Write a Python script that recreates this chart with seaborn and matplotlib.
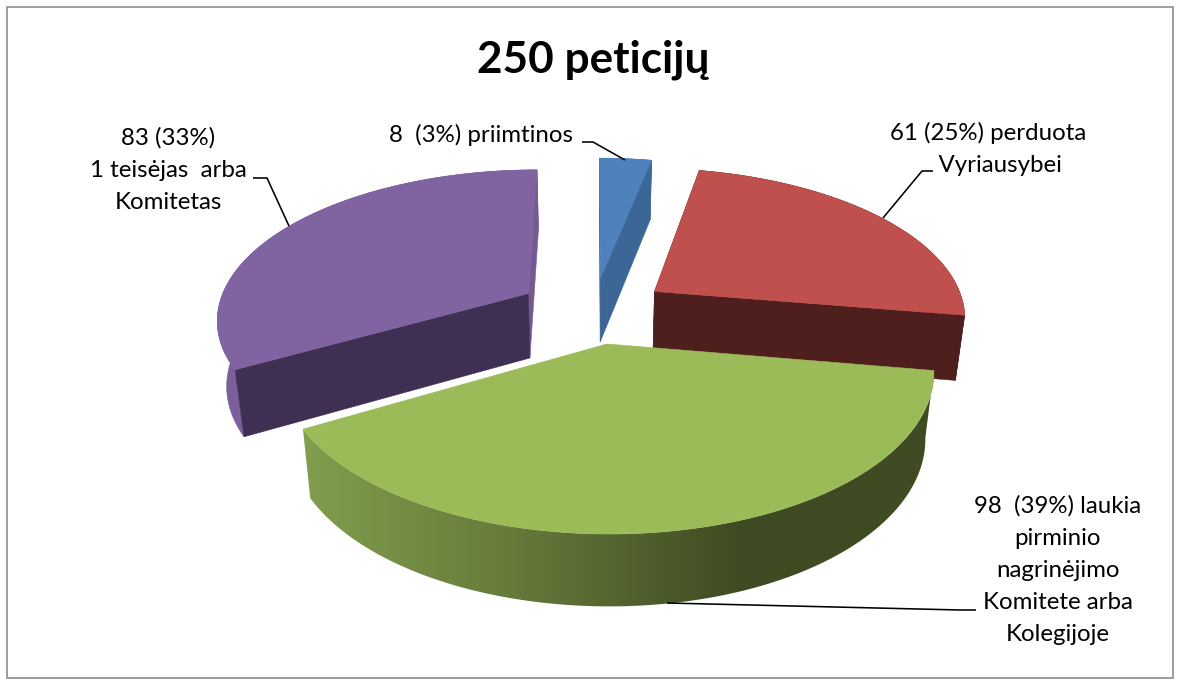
import numpy as np
import matplotlib.pyplot as plt
import seaborn as sns
from matplotlib.patches import Polygon, Rectangle

# -----------------------------
# Data
# -----------------------------
title = "250 peticijų"
counts = [8, 61, 98, 83]
labels = [
    "8  (3%) priimtinos",
    "61 (25%) perduota\n    Vyriausybei",
    "98  (39%) laukia\npirminio\nnagrinėjimo\nKomitete arba\nKolegijoje",
    "83 (33%)\n1 teisėjas  arba\nKomitetas",
]
top_colors = ["#4F81BD", "#C0504D", "#9BBB59", "#8064A2"]
start_colors = ["#3C6696", "#4F1F1E", None, "#3F2F52"]
end_colors = ["#3C6696", "#4F1F1E", None, "#755A92"]
side_colors = ["#3C6696", "#4F1F1E", None, "#7B5E9A"]

# -----------------------------
# Projection of the 3D pie
# -----------------------------
CX, CY = 593, 310
RX, RY = 311, 148
PERSP = 0.158
EXPLODE_U, EXPLODE_V = 0.245, 0.225
DEPTH = 65
SHRINK = 0.975


def project(u, v):
    w = 1 - PERSP * v
    return CX + RX * u / w, CY + RY * v / w, w


def lower(x, y, w):
    return CX + (x - CX) * SHRINK, y + DEPTH / np.sqrt(w)


def wedge_outline(a0, a1, n=200):
    mid = (a0 + a1) / 2
    ou, ov = EXPLODE_U * np.sin(mid), -EXPLODE_V * np.cos(mid)
    ang = np.linspace(a0, a1, n)
    return project(ou + np.sin(ang), ov - np.cos(ang)), project(ou, ov)


sns.set_theme(style="white")
plt.rcParams["font.family"] = ["Lato", "DejaVu Sans"]

fig = plt.figure(figsize=(11.79, 6.79), dpi=100)
ax = fig.add_axes([0, 0, 1, 1])

ax.add_patch(Rectangle((6.5, 6.5), 1166.5, 671.5, fill=False, edgecolor="#8C8C8C", linewidth=1.2))

# green side runs from lit olive on the left to dark olive on the right
green_ramp = np.array(sns.blend_palette(["#81A04F", "#66793A", "#3F4B22", "#3F4B22"], 256))

edges = np.radians(np.cumsum([0] + counts) / sum(counts) * 360)
fill = dict(linewidth=0.4)

for i in range(len(counts)):
    (arc_x, arc_y, arc_w), (ox, oy, ow) = wedge_outline(edges[i], edges[i + 1])
    low_x, low_y = lower(arc_x, arc_y, arc_w)
    olx, oly = lower(ox, oy, ow)

    # outer rim
    rim_x = np.r_[arc_x, low_x[::-1]]
    rim_y = np.r_[arc_y, low_y[::-1]]
    if side_colors[i] is None:
        rim = Polygon(np.c_[rim_x, rim_y], closed=True, transform=ax.transData)
        img = ax.imshow(green_ramp[None, :, :], extent=(295, 960, 700, 300), aspect="auto",
                        interpolation="bilinear", zorder=i + 1)
        img.set_clip_path(rim)
    else:
        ax.fill(rim_x, rim_y, color=side_colors[i], zorder=i + 1, **fill)

    # cut faces
    if end_colors[i] is not None:
        ax.fill([ox, arc_x[-1], low_x[-1], olx], [oy, arc_y[-1], low_y[-1], oly],
                color=end_colors[i], zorder=i + 1.1, **fill)
    if start_colors[i] is not None:
        ax.fill([ox, arc_x[0], low_x[0], olx], [oy, arc_y[0], low_y[0], oly],
                color=start_colors[i], zorder=i + 1.2, **fill)

    # top face
    ax.fill(np.r_[ox, arc_x], np.r_[oy, arc_y], color=top_colors[i], zorder=i + 1.3, **fill)

ax.set_xlim(0, 1179)
ax.set_ylim(679, 0)
ax.axis("off")

# -----------------------------
# Leader lines and text
# -----------------------------
leaders = [
    ([582, 593, 625], [142, 142, 160]),
    ([933, 922, 883], [171, 171, 218]),
    ([667, 960, 976], [603, 610, 610]),
    ([253, 267, 289], [178, 178, 226]),
]
for lx, ly in leaders:
    ax.plot(lx, ly, color="black", linewidth=1.15, zorder=10, solid_capstyle="butt")

label_pos = [(481, 135), (988, 149), (1057.5, 570), (168, 170)]
for (tx, ty), txt in zip(label_pos, labels):
    ax.text(tx, ty, txt, ha="center", va="center", fontsize=17.3, color="black",
            linespacing=1.66, zorder=11)

ax.text(593.5, 72, title, ha="center", va="baseline", fontsize=31.8, fontweight="bold", color="black")

fig.savefig("out.png", dpi=100)
